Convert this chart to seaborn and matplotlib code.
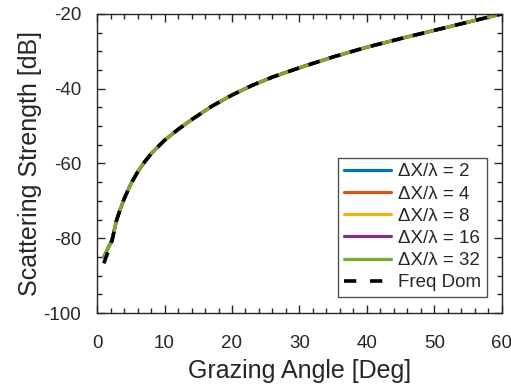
import numpy as np
import pandas as pd
import matplotlib
matplotlib.use('Agg')
import matplotlib.pyplot as plt
import seaborn as sns
from matplotlib.ticker import MultipleLocator

# grazing angles [deg]
angle = [1, 2.2, 2.9, 3.4, 4, 5, 6, 7, 8, 10, 12, 14, 17, 20, 23, 26, 30, 35, 40, 45, 50, 55, 60]

# scattering strength [dB] per spacing (all curves overlap)
ss_2 = [-85, -80.5, -75.1, -72.4, -69.5, -65.5, -62.3, -59.7, -57.4, -53.8, -50.9, -48.3, -44.7,
        -41.7, -39.1, -36.9, -34.4, -31.5, -28.9, -26.6, -24.4, -22.2, -20]
ss_4 = list(ss_2)
ss_8 = list(ss_2)
ss_16 = list(ss_2)
ss_32 = list(ss_2)
freq_dom = [-86.7, -80.8, -75.1, -72.4, -69.5, -65.5, -62.3, -59.7, -57.4, -53.8, -50.9, -48.3, -44.7,
            -41.7, -39.1, -36.9, -34.4, -31.5, -28.9, -26.6, -24.4, -22.2, -20]

labels = ['ΔX/λ = 2', 'ΔX/λ = 4', 'ΔX/λ = 8', 'ΔX/λ = 16', 'ΔX/λ = 32']
colors = ['#0072BD', '#D95319', '#EDB120', '#7E2F8E', '#77AC30']

rows = []
for lab, vals in zip(labels, [ss_2, ss_4, ss_8, ss_16, ss_32]):
    for a, v in zip(angle, vals):
        rows.append({'angle': a, 'ss': v, 'series': lab})
df = pd.DataFrame(rows)

sns.set_style('ticks')
plt.rcParams['font.family'] = ['Liberation Sans', 'DejaVu Sans']
plt.rcParams['axes.unicode_minus'] = False

fig = plt.figure(figsize=(5.11, 3.86), dpi=100)
ax = fig.add_axes([0.19, 0.189, 0.792, 0.775])

sns.lineplot(data=df, x='angle', y='ss', hue='series', hue_order=labels,
             palette=colors, linewidth=2.3, ax=ax, sort=False, estimator=None)
sns.lineplot(x=angle, y=freq_dom, color='black', linewidth=2.6, ax=ax,
             label='Freq Dom', dashes=False)
ax.lines[-1].set_dashes([3.2, 2.8])

ax.set_xlim(0, 60)
ax.set_ylim(-100, -20)
ax.xaxis.set_major_locator(MultipleLocator(10))
ax.xaxis.set_minor_locator(MultipleLocator(2))
ax.yaxis.set_major_locator(MultipleLocator(20))
ax.yaxis.set_minor_locator(MultipleLocator(5))
ax.tick_params(which='both', direction='in', top=True, right=True,
               colors='#262626', labelcolor='#262626')
ax.tick_params(which='major', length=6, width=1.0, labelsize=13.5)
ax.tick_params(axis='x', which='major', pad=16)
ax.tick_params(axis='y', which='major', pad=11.5)
ax.tick_params(which='minor', length=3.6, width=1.0)
for s in ax.spines.values():
    s.set_color('#262626')
    s.set_linewidth(1.0)

ax.set_xlabel('Grazing Angle [Deg]', fontsize=18, color='#262626', labelpad=5)
ax.set_ylabel('Scattering Strength [dB]', fontsize=18, color='#262626', labelpad=1)

leg = ax.legend(loc='lower right', bbox_to_anchor=(0.963, 0.0535), fontsize=13.5,
                frameon=True, fancybox=False, edgecolor='#262626',
                handlelength=2.5, labelspacing=0.27, borderpad=0.3,
                handletextpad=0.4, borderaxespad=0)
leg.get_frame().set_linewidth(1.0)
# two long dashes in the legend handle, as in the original
leg.get_lines()[-1].set_dashes([3.4, 3.8])

fig.savefig('out.png', dpi=100)
